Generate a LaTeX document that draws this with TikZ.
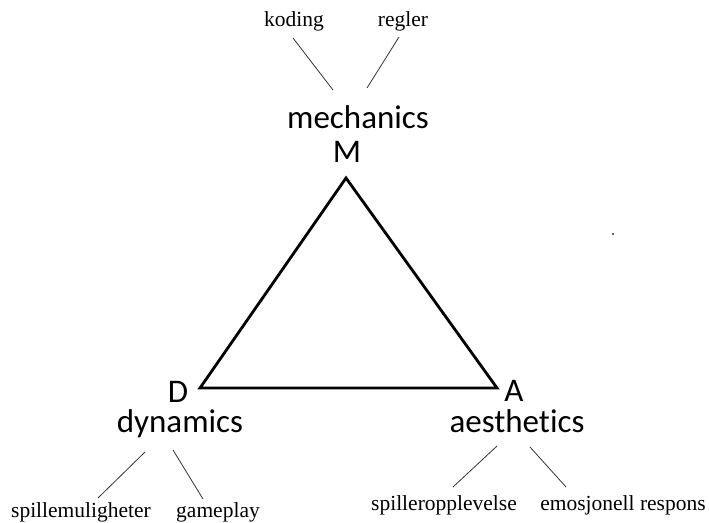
\documentclass[tikz,border=0pt]{standalone}
\usepackage{fontspec}
\setmainfont{Liberation Serif}
\newfontfamily\calibfont[Ligatures=NoCommon]{Carlito}
\begin{document}
\begin{tikzpicture}[x=1pt,y=-1pt,
  big/.style={inner sep=0pt,anchor=base,font=\calibfont\fontsize{33}{38}\selectfont},
  small/.style={inner sep=0pt,anchor=base,font=\fontsize{21.5}{26}\selectfont},
  thin/.style={line width=0.8pt,black!80}]
\useasboundingbox (0,0) rectangle (709,522);
% triangle
\coordinate (tM) at (346,178);
\coordinate (tD) at (200,388);
\coordinate (tA) at (497,388);
\draw[line width=2.8pt,line join=miter] (tM) -- (tA) -- (tD) -- cycle;
% big labels
\node[big] (mech) at (358,128) {mechanics};
\node[big] (M) at (347,162) {M};
\node[big] (D) at (178,402) {D};
\node[big] (dyn) at (180,432) {dynamics};
\node[big] (A) at (514,401) {A};
\node[big] (aes) at (517,432) {aesthetics};
% small labels
\node[small] (kod) at (294,27) {koding};
\node[small] (reg) at (403,27) {regler};
\node[small] (spm) at (81,517) {spillemuligheter};
\node[small] (gam) at (218,517) {gameplay};
\node[small] (spo) at (444,510) {spilleropplevelse};
\node[small] (emo) at (623,510) {emosjonell respons};
% connector ends
\coordinate (k1) at (293,38);  \coordinate (k2) at (333,90);
\coordinate (r1) at (399,37);  \coordinate (r2) at (367,88);
\coordinate (s1) at (145,452); \coordinate (s2) at (98,498);
\coordinate (g1) at (173,450); \coordinate (g2) at (203,499);
\coordinate (p1) at (497,446); \coordinate (p2) at (453,487);
\coordinate (e1) at (530,447); \coordinate (e2) at (566,487);
\draw[thin] (k1) -- (k2);
\draw[thin] (r1) -- (r2);
\draw[thin] (s1) -- (s2);
\draw[thin] (g1) -- (g2);
\draw[thin] (p1) -- (p2);
\draw[thin] (e1) -- (e2);
% stray dot
\fill[black!60] (612,233) rectangle (614,235);
\end{tikzpicture}
\end{document}
